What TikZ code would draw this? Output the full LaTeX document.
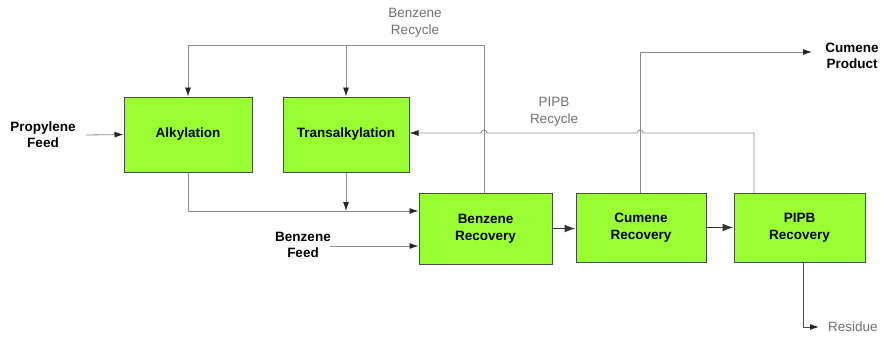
\documentclass[tikz,border=0pt]{standalone}
\usepackage{fontspec}
\setmainfont{Liberation Sans}
\usetikzlibrary{arrows.meta}
\definecolor{boxgreen}{HTML}{99FF33}
\definecolor{boxedge}{HTML}{4A4A4A}
\definecolor{lightline}{HTML}{8C8C8C}
\definecolor{labelgray}{HTML}{707070}
\begin{document}
\begin{tikzpicture}[x=1pt,y=-1pt,
  unit/.style={draw=boxedge,line width=1pt,fill=boxgreen,align=center,
    font=\fontsize{13.5}{17}\selectfont\bfseries,inner sep=0pt},
  flow/.style={draw=lightline,line width=0.8pt},
  tip/.style={-{Latex[length=9pt,width=6pt,color=black!85]}},
  mainflow/.style={draw=black!80,line width=1.5pt,-{Latex[length=11pt,width=8pt]}},
  blabel/.style={align=center,font=\fontsize{13.5}{16}\selectfont\bfseries,inner sep=0pt},
  glabel/.style={align=center,text=labelgray,font=\fontsize{13.5}{17}\selectfont,inner sep=0pt}]
\useasboundingbox (0,0) rectangle (882,338);
% units
\node[unit,minimum width=128pt,minimum height=75pt] (alk) at (188,134.5) {Alkylation};
\node[unit,minimum width=126pt,minimum height=75pt] (trans) at (346,134.5) {Transalkylation};
\node[unit,minimum width=133pt,minimum height=71pt] (benrec) at (485.5,228.5) {Benzene\\Recovery};
\node[unit,minimum width=130pt,minimum height=69pt] (cumrec) at (641,227.5) {Cumene\\Recovery};
\node[unit,minimum width=131pt,minimum height=69pt] (pipbrec) at (799.5,227.5) {PIPB\\Recovery};
% labels
\node[blabel] (propfeed) at (43,135) {Propylene\\Feed};
\node[blabel] (benfeed) at (303,245) {Benzene\\Feed};
\node[blabel] (cumprod) at (852,56) {Cumene\\Product};
\node[glabel] (benrecyc) at (415,23) {Benzene\\Recycle};
\node[glabel] (piprecyc) at (554,112) {PIPB\\Recycle};
\node[glabel,anchor=west] (residue) at (828,327) {Residue};
% coordinates
\coordinate (btop) at (484,45);
\coordinate (bfoot) at (484,193);
\coordinate (alkjoin) at (188,211);
\coordinate (transjoin) at (346,211);
\coordinate (pfoot) at (754,193);
\coordinate (ptop) at (754,133);
\coordinate (cprod) at (640,52);
\coordinate (cprodend) at (812,52);
\coordinate (resend) at (819,327);
\coordinate (bfstart) at (330,246);
\coordinate (pfstart) at (86,135);
% benzene recycle
\draw[flow,tip] (bfoot) -- (btop) -| (alk.north);
\draw[flow,tip] (trans.north |- btop) -- (trans.north);
% PIPB recycle with hops
\draw[flow,tip] (pfoot) -- (ptop) -- (643,133)
  arc[start angle=0,end angle=180,radius=3pt] -- (487,133)
  arc[start angle=0,end angle=180,radius=3pt] -- (trans.east |- ptop);
% cumene product
\draw[flow,tip] (cumrec.north -| cprod) -- (cprod) -- (cprodend);
% alkylation / transalkylation products
\draw[flow,tip] (alk.south) -- (alkjoin) -- (alkjoin -| benrec.west);
\draw[flow,tip] (trans.south) -- (transjoin);
% feeds
\draw[flow,tip] (pfstart) -- (alk.west);
\draw[flow,tip] (bfstart) -- (bfstart -| benrec.west);
% main flow
\draw[mainflow] (benrec.east) -- (cumrec.west |- benrec.east);
\draw[mainflow] (cumrec.east) -- (pipbrec.west);
% residue
\draw[flow,draw=black!70,line width=1pt,tip] (pipbrec.south -| 803,0) |- (resend);
\end{tikzpicture}
\end{document}
